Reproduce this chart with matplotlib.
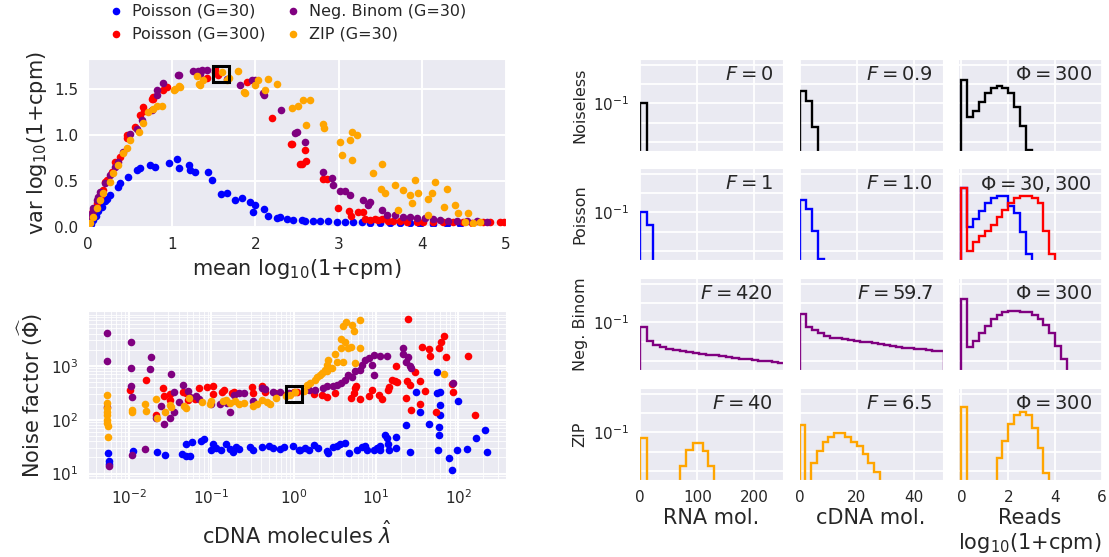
import matplotlib
matplotlib.use('Agg')
import matplotlib.pyplot as plt
import matplotlib.ticker as mtick
import numpy as np
import seaborn as sns

sns.set_style('darkgrid')
plt.rcParams['font.family'] = ['DejaVu Sans']
plt.rcParams['mathtext.fontset'] = 'dejavusans'
plt.rcParams['xtick.labelsize'] = 11
plt.rcParams['ytick.labelsize'] = 11


# ---------------- mean / variance scatter (top left) ----------------
blue_mean = [0.00, 0.01, 0.02, 0.03, 0.044, 0.06, 0.084, 0.10, 0.12, 0.144, 0.17, 0.203, 0.23, 0.263, 0.363,
             0.383, 0.482, 0.582, 0.622, 0.742, 0.801, 0.973, 1.061, 1.092, 1.212, 1.220, 1.280, 1.439, 1.487,
             1.587, 1.659, 1.758, 1.838, 1.938, 1.998, 1.978, 2.109, 2.149, 2.257, 2.297, 2.376, 2.456, 2.556,
             2.596, 2.695, 2.775, 2.875, 2.975, 3.074, 3.174, 3.274, 3.373, 3.493, 3.612, 3.732, 3.852, 3.971,
             4.131, 4.290, 4.450]
blue_var = [0.00, 0.005, 0.02, 0.035, 0.076, 0.08, 0.13, 0.12, 0.17, 0.22, 0.22, 0.28, 0.31, 0.348, 0.438,
            0.475, 0.547, 0.620, 0.638, 0.674, 0.656, 0.699, 0.736, 0.638, 0.674, 0.620, 0.601, 0.594, 0.511,
            0.359, 0.373, 0.293, 0.319, 0.268, 0.239, 0.167, 0.192, 0.120, 0.094, 0.105, 0.087, 0.076, 0.076,
            0.069, 0.069, 0.065, 0.065, 0.058, 0.054, 0.051, 0.051, 0.047, 0.047, 0.043, 0.040, 0.040, 0.036,
            0.036, 0.033, 0.033]

red_mean = [0.024, 0.064, 0.104, 0.151, 0.144, 0.183, 0.203, 0.223, 0.283, 0.323, 0.343, 0.383, 0.463, 0.463,
            0.562, 0.622, 0.662, 0.674, 0.762, 0.782, 0.781, 0.901, 0.941, 1.42, 1.519, 1.52, 1.55, 1.898, 0.05,
            2.205, 2.436, 2.428, 2.54, 2.596, 2.556, 2.608, 2.815, 2.855, 2.994, 3.126, 3.146, 3.234, 3.286,
            3.313, 3.373, 3.433, 3.473, 3.513, 3.593, 3.652, 3.732, 3.812, 3.931, 4.011, 4.131, 4.250, 4.370,
            4.490, 4.589, 4.729, 4.809, 4.928, 4.98]
red_var = [0.112, 0.185, 0.258, 0.348, 0.330, 0.402, 0.493, 0.511, 0.601, 0.710, 0.692, 0.764, 0.964, 1.0,
           1.090, 1.217, 1.308, 1.261, 1.395, 1.417, 1.399, 1.489, 1.525, 1.623, 1.725, 1.688, 1.652, 1.580, 0.15,
           1.192, 0.899, 0.90, 0.685, 0.837, 0.685, 0.717, 0.522, 0.518, 0.203, 0.174, 0.120, 0.159, 0.159,
           0.087, 0.076, 0.087, 0.076, 0.087, 0.065, 0.069, 0.065, 0.058, 0.058, 0.058, 0.051, 0.058, 0.051,
           0.051, 0.047, 0.051, 0.051, 0.058, 0.058]

purple_mean = [0.004, 0.024, 0.044, 0.064, 0.104, 0.124, 0.144, 0.203, 0.263, 0.323, 0.363, 0.423, 0.502, 0.582,
               0.642, 0.762, 0.821, 0.821, 0.901, 1.080, 1.092, 1.252, 1.316, 1.340, 1.360, 1.428, 1.659, 1.819,
               1.958, 2.0, 2.095, 2.107, 2.305, 2.476, 2.496, 2.596, 2.807, 2.915, 2.935, 3.014, 3.074, 3.134,
               3.293, 3.353, 3.373, 3.513, 3.573, 3.672, 3.772, 3.852, 3.931, 4.031, 4.131, 4.211, 4.310, 4.410,
               4.530, 4.649, 4.769]
purple_var = [0.058, 0.112, 0.149, 0.203, 0.293, 0.330, 0.384, 0.475, 0.565, 0.656, 0.710, 0.819, 1.018, 1.062,
              1.163, 1.272, 1.435, 1.489, 1.569, 1.652, 1.652, 1.699, 1.696, 1.663, 1.707, 1.707, 1.616, 1.551,
              1.598, 1.605, 1.464, 1.442, 1.272, 1.025, 1.036, 0.928, 0.601, 0.529, 0.457, 0.395, 0.395, 0.348,
              0.293, 0.239, 0.275, 0.185, 0.130, 0.130, 0.112, 0.112, 0.101, 0.094, 0.083, 0.076, 0.069, 0.069,
              0.065, 0.069, 0.058]

orange_mean = [0.004, 0.024, 0.064, 0.104, 0.144, 0.183, 0.263, 0.303, 0.363, 0.415, 0.463, 0.502, 0.614, 0.662,
               0.722, 0.782, 0.821, 0.881, 1.029, 1.04, 1.092, 1.10, 1.300, 1.332, 1.340, 1.37, 1.599, 1.659, 1.69,
               1.799, 1.87, 1.878, 1.998, 2.038, 2.117, 2.149, 2.257, 2.444, 2.508, 2.576, 2.656, 2.608, 2.815,
               2.823, 3.014, 3.034, 3.134, 3.154, 3.222, 3.154, 3.413, 3.513, 3.501, 3.553, 3.672, 3.712, 3.772,
               3.852, 3.872, 3.912, 3.952, 4.063, 4.071, 4.111, 4.151, 4.262, 4.290, 4.390, 4.430, 4.510, 4.550,
               4.609, 4.689]
orange_var = [0.0, 0.040, 0.112, 0.203, 0.293, 0.366, 0.493, 0.583, 0.674, 0.801, 0.855, 0.946, 1.036, 1.134,
              1.254, 1.290, 1.315, 1.319, 1.496, 1.507, 1.533, 1.525, 1.641, 1.562, 1.544, 1.60, 1.688, 1.598, 1.62,
              1.696, 1.47, 1.460, 1.551, 1.605, 1.496, 1.609, 1.562, 1.301, 1.315, 1.380, 1.380, 1.109, 1.127,
              1.076, 0.928, 0.783, 0.946, 1.036, 1.0, 0.728, 0.591, 0.685, 0.417, 0.366, 0.457, 0.185, 0.402,
              0.348, 0.264, 0.511, 0.366, 0.304, 0.130, 0.373, 0.486, 0.221, 0.417, 0.236, 0.149, 0.058, 0.149,
              0.040, 0.058]

box_top = (1.59, 1.67)

# ---------------- noise factor vs cDNA molecules (bottom left), log10 values ----------------
blue_lam = [-2.26, -2.25, -2.24, -1.95, -1.66, -1.56, -1.36, -1.31, -1.31, -1.26, -1.24, -1.13, -1.09, -1.00,
            -0.98, -0.94, -0.89, -0.82, -0.78, -0.74, -0.70, -0.66, -0.53, -0.49, -0.39, -0.30, -0.25, -0.17,
            -0.12, -0.01, 0.06, 0.08, 0.14, 0.18, 0.24, 0.30, 0.40, 0.42, 0.48, 0.52, 0.56, 0.62, 0.67, 0.77,
            0.83, 0.87, 0.89, 0.97, 1.01, 1.05, 1.05, 1.11, 1.13, 1.15, 1.16, 1.24, 1.24, 1.37, 1.41, 1.49, 1.54,
            1.64, 1.74, 1.74, 1.78, 1.76, 1.77, 1.78, 1.78, 1.75, 1.89, 1.92, 1.98, 2.00, 2.11, 2.22, 2.33, 2.35]
blue_phi = [1.38, 1.24, 1.17, 1.41, 1.40, 1.35, 1.37, 1.54, 1.32, 1.32, 1.59, 1.60, 1.65, 1.44, 1.54, 1.48, 1.44,
            1.54, 1.46, 1.40, 1.49, 1.46, 1.49, 1.43, 1.49, 1.52, 1.48, 1.46, 1.49, 1.51, 1.43, 1.44, 1.48, 1.44,
            1.53, 1.48, 1.41, 1.38, 1.49, 1.51, 1.54, 1.57, 1.38, 1.43, 1.49, 1.52, 1.43, 1.43, 1.48, 1.51, 1.43,
            1.72, 1.66, 1.54, 1.44, 1.68, 1.48, 1.90, 1.40, 2.51, 2.14, 1.92, 2.88, 2.49, 2.52, 1.72, 1.86, 2.27,
            2.09, 1.44, 1.29, 1.06, 1.44, 2.34, 1.46, 1.66, 1.80, 1.40]

red_lam = [-1.99, -1.79, -1.67, -1.58, -1.59, -1.51, -1.50, -1.34, -1.31, -1.28, -1.20, -1.15, -1.06, -0.98,
           -0.98, -0.87, -0.85, -0.75, -0.73, -0.51, -0.50, -0.39, -0.35, -0.23, -0.08, -0.00, 0.04, 0.25, 0.34,
           0.40, 0.50, 0.69, 0.73, 0.75, 0.76, 0.81, 0.92, 0.95, 1.04, 1.07, 1.15, 1.16, 1.19, 1.24, 1.23, 1.26,
           1.37, 1.38, 1.41, 1.43, 1.47, 1.54, 1.54, 1.56, 1.60, 1.64, 1.65, 1.73, 1.77, 1.79, 1.83, 1.85, 1.92,
           1.93, 2.12, 2.20, 1.39]
red_phi = [2.56, 2.74, 2.09, 2.45, 2.59, 2.37, 2.48, 2.51, 2.49, 2.37, 2.39, 2.59, 2.60, 2.63, 2.48, 2.52, 2.56,
           2.49, 2.51, 2.60, 2.49, 2.62, 2.51, 2.49, 2.48, 2.51, 2.51, 2.48, 2.46, 2.42, 2.49, 2.41, 2.49, 2.59,
           2.62, 2.39, 2.45, 2.56, 2.46, 2.39, 2.56, 2.61, 2.73, 2.99, 2.72, 2.71, 2.41, 2.72, 2.64, 2.19, 2.88,
           2.72, 2.29, 3.36, 2.53, 3.31, 3.19, 2.15, 3.33, 3.44, 3.56, 3.16, 2.66, 2.51, 3.19, 2.09, 3.88]

purple_lam = [-2.27, -2.27, -2.27, -2.24, -1.98, -1.98, -1.98, -1.97, -1.96, -1.81, -1.73, -1.75, -1.49, -1.68,
              -1.61, -1.58, -1.50, -1.45, -1.46, -1.39, -1.34, -1.29, -1.26, -1.19, -1.15, -1.00, -0.90, -0.81,
              -0.78, -0.73, -0.66, -0.61, -0.49, -0.39, -0.35, -0.25, -0.17, -0.06, 0.18, 0.26, 0.36, 0.40, 0.48,
              0.52, 0.58, 0.62, 0.66, 0.71, 0.75, 0.81, 0.83, 0.87, 0.91, 0.95, 0.97, 0.97, 1.05, 1.13, 1.33, 1.33,
              1.39, 1.41, 1.43, 1.37, 1.93]
purple_phi = [3.62, 3.09, 2.23, 1.14, 3.45, 2.97, 2.62, 2.43, 1.34, 1.46, 3.16, 2.94, 2.85, 2.04, 2.25, 1.92, 2.03,
              2.14, 2.51, 2.33, 2.64, 2.54, 2.43, 2.45, 2.38, 2.30, 2.29, 2.31, 2.14, 2.46, 2.49, 2.49, 2.34, 2.59,
              2.57, 2.52, 2.51, 2.49, 2.56, 2.56, 2.59, 2.62, 2.62, 2.65, 2.68, 2.74, 2.83, 2.80, 2.90, 2.93, 3.02,
              3.11, 3.14, 3.02, 2.83, 3.20, 3.19, 3.19, 3.34, 3.22, 3.17, 2.99, 2.96, 3.08, 2.69]

orange_lam = [-2.27, -2.27, -2.27, -2.27, -2.27, -2.27, -2.27, -2.26, -2.26, -1.97, -1.97, -1.81, -1.79, -1.67,
              -1.66, -1.56, -1.49, -1.50, -1.33, -1.31, -1.27, -1.12, -1.02, -1.01, -0.86, -0.82, -0.77, -0.72,
              -0.66, -0.61, -0.49, -0.45, -0.38, -0.32, -0.29, -0.21, -0.10, -0.04, 0.02, 0.12, 0.16, 0.20, 0.26,
              0.28, 0.32, 0.34, 0.38, 0.41, 0.42, 0.46, 0.40, 0.50, 0.52, 0.58, 0.60, 0.62, 0.66, 0.69, 0.58, 0.60,
              0.64, 0.71, 0.73, 0.75, 0.81, 0.81, 1.83]
orange_phi = [2.46, 2.31, 2.22, 2.15, 2.09, 2.00, 1.94, 1.88, 1.67, 2.19, 2.14, 2.29, 2.17, 2.39, 2.03, 2.14, 2.23,
              2.28, 2.25, 2.22, 2.41, 2.33, 2.29, 2.34, 2.34, 2.37, 2.31, 2.34, 2.29, 2.32, 2.25, 2.29, 2.37, 2.33,
              2.29, 2.40, 2.45, 2.46, 2.51, 2.53, 2.65, 2.68, 2.74, 2.80, 2.83, 2.86, 2.93, 3.02, 3.11, 2.96, 2.90,
              3.23, 3.08, 3.33, 3.08, 3.45, 3.33, 3.36, 3.51, 3.75, 3.81, 3.76, 3.65, 3.05, 3.85, 3.33, 2.85]

box_bot = (1.0, 300)

# ---------------- histograms (density, right grid) ----------------
rna_noiseless_edges = [0, 11.5]
rna_noiseless = [0.11]
rna_poisson_edges = [0, 11.5, 22]
rna_poisson = [0.1, 0.0226]
rna_nb_edges = np.arange(0, 254, 11.5)
rna_nb = [0.056, 0.0113, 0.0067, 0.0052, 0.0043, 0.0037, 0.0032, 0.0028, 0.0025, 0.0023, 0.0021,
          0.0019, 0.0017, 0.0015, 0.0014, 0.0013, 0.0012, 0.0011, 0.001, 0.00095, 0.0009, 0.0008]
rna_zip_edges = [0, 11.5, 69.5, 81, 92.5, 101, 110, 119.5, 130]
rna_zip = [0.050, 0, 0.0017, 0.0124, 0.0277, 0.0277, 0.0102, 0.0017]

cdna_noiseless_edges = [0, 2.1, 4.2, 6.3]
cdna_noiseless = [0.42, 0.13, 0.0056]
cdna_poisson_edges = [0, 2.1, 4.2, 6.3, 8.4]
cdna_poisson = [0.45, 0.149, 0.011, 0.00037]
cdna_nb_edges = np.arange(0, 50.5, 2.1)
cdna_nb = [0.267, 0.056, 0.041, 0.027, 0.0205, 0.016, 0.0145, 0.0133, 0.0122, 0.011, 0.0100, 0.0090,
           0.0082, 0.0073, 0.0064, 0.0058, 0.0053, 0.0049, 0.0045, 0.0042, 0.0040, 0.0037, 0.0034, 0.0031]
cdna_zip_edges = np.arange(0, 29, 2)
cdna_zip = [0.249, 0, 0.0024, 0.011, 0.032, 0.059, 0.089, 0.089, 0.059, 0.032, 0.0186, 0.0074, 0.0024, 0.00083]

reads_noiseless = [1.64, 0.020, 0.040, 0.113, 0.332, 0.604, 0.826, 0.604, 0.332, 0.0665, 0.0066, 0.00037]
reads_poisson30 = [1.78, 0.0166, 0.045, 0.113, 0.305, 0.556, 0.733, 0.733, 0.22, 0.089, 0.0098, 0.00067]
reads_poisson300 = [1.78, 0.001, 0.0029, 0.006, 0.011, 0.022, 0.055, 0.132, 0.305, 0.556, 0.733, 0.733,
                    0.556, 0.305, 0.011, 0.00067]
reads_nb = [1.62, 0.0051, 0.011, 0.027, 0.068, 0.146, 0.245, 0.325, 0.38, 0.40, 0.36, 0.325, 0.245, 0.146,
            0.074, 0.027, 0.006, 0.0012]
reads_zip = [2.0, 0, 0, 0, 0, 0, 0.0046, 0.036, 0.27, 0.83, 1.18, 0.83, 0.16, 0.015, 0.00073]
reads_bin = 0.25

row_names = ['Noiseless', 'Poisson', 'Neg. Binom', 'ZIP']
col_names = ['RNA mol.', 'cDNA mol.', 'Reads\nlog$_{10}$(1+cpm)']
annotations = [['$F=0$', '$F=0.9$', r'$\Phi=300$'],
               ['$F=1$', '$F=1.0$', r'$\Phi=30, 300$'],
               ['$F=420$', '$F=59.7$', r'$\Phi=300$'],
               ['$F=40$', '$F=6.5$', r'$\Phi=300$']]

BLUE, RED, PURPLE, ORANGE = 'blue', 'red', 'purple', 'orange'


def reads_edges(vals):
    return np.arange(len(vals) + 1) * reads_bin


hists = [
    [[(rna_noiseless_edges, rna_noiseless, 'k')],
     [(cdna_noiseless_edges, cdna_noiseless, 'k')],
     [(reads_edges(reads_noiseless), reads_noiseless, 'k')]],
    [[(rna_poisson_edges, rna_poisson, BLUE)],
     [(cdna_poisson_edges, cdna_poisson, BLUE)],
     [(reads_edges(reads_poisson30), reads_poisson30, BLUE),
      (reads_edges(reads_poisson300), reads_poisson300, RED)]],
    [[(rna_nb_edges, rna_nb, PURPLE)],
     [(cdna_nb_edges, cdna_nb, PURPLE)],
     [(reads_edges(reads_nb), reads_nb, PURPLE)]],
    [[(rna_zip_edges, rna_zip, ORANGE)],
     [(cdna_zip_edges, cdna_zip, ORANGE)],
     [(reads_edges(reads_zip), reads_zip, ORANGE)]],
]


fig = plt.figure(figsize=(11.09, 5.57), dpi=100)

# ---- top left ----
ax1 = fig.add_axes([0.0794, 0.5925, 0.3769, 0.3016])
handles = []
for x, y, c, lab in [(blue_mean, blue_var, BLUE, 'Poisson (G=30)'),
                     (red_mean, red_var, RED, 'Poisson (G=300)'),
                     (purple_mean, purple_var, PURPLE, 'Neg. Binom (G=30)'),
                     (orange_mean, orange_var, ORANGE, 'ZIP (G=30)')]:
    handles.append(ax1.scatter(x, y, s=30, color=c, linewidths=0, label=lab))
ax1.plot(*box_top, marker='s', ms=11, mfc='none', mec='k', mew=2.2)
ax1.set_xlim(0, 5)
ax1.set_ylim(0, 1.83)
ax1.set_yticks([0, 0.5, 1.0, 1.5])
ax1.yaxis.set_major_formatter(mtick.FormatStrFormatter('%.1f'))
ax1.grid(lw=1.4)
ax1.set_xlabel('mean log$_{10}$(1+cpm)', fontsize=15)
ax1.set_ylabel('var log$_{10}$(1+cpm)', fontsize=15)

fig.legend(handles=handles, ncol=2, loc='upper left', bbox_to_anchor=(0.092, 1.005),
           frameon=False, fontsize=11.5, handlelength=1, handletextpad=0.5,
           columnspacing=1.2, labelspacing=0.5, borderaxespad=0)

# ---- bottom left ----
ax2 = fig.add_axes([0.0794, 0.1400, 0.3769, 0.3016])
for lx, ly, c in [(blue_lam, blue_phi, BLUE), (red_lam, red_phi, RED),
                  (purple_lam, purple_phi, PURPLE), (orange_lam, orange_phi, ORANGE)]:
    ax2.scatter(10 ** np.array(lx), 10 ** np.array(ly), s=30, color=c, linewidths=0)
ax2.plot(*box_bot, marker='s', ms=11, mfc='none', mec='k', mew=2.2)
ax2.set_xscale('log')
ax2.set_yscale('log')
ax2.set_xlim(10 ** -2.5, 10 ** 2.58)
ax2.set_ylim(7.9, 10500)
ax2.set_yticks([10, 100, 1000])
ax2.grid(which='major', lw=1.4)
ax2.grid(which='minor', color='white', lw=0.6)
ax2.set_xlabel(r'cDNA molecules $\hat{\lambda}$', fontsize=15, labelpad=9)
ax2.set_ylabel(r'Noise factor ($\widehat{\Phi}$)', fontsize=15)

# ---- right grid of histograms ----
lefts = [0.5762, 0.7205, 0.8638]
bottoms = [0.7289, 0.5332, 0.3357, 0.1382]
xlims = [(-2, 250), (-0.2, 50), (-0.15, 6)]
xticks = [[0, 100, 200], [0, 20, 40], [0, 2, 4, 6]]

for r in range(4):
    for c in range(3):
        ax = fig.add_axes([lefts[c], bottoms[r], 0.1298, 0.1652])
        for edges, vals, color in hists[r][c]:
            ax.stairs(vals, edges, color=color, lw=1.7)
        ax.set_yscale('log')
        ax.set_ylim(3.3e-4, 20.3)
        ax.set_yticks([1e-3, 1e-2, 1e-1, 1, 10])
        ax.yaxis.set_minor_locator(mtick.NullLocator())
        if c == 0:
            ax.set_yticklabels(['', '', '$10^{-1}$', '', ''])
            ax.set_ylabel(row_names[r], fontsize=11.5)
        else:
            ax.set_yticklabels([])
        ax.set_xlim(*xlims[c])
        ax.set_xticks(xticks[c])
        if r == 3:
            ax.set_xlabel(col_names[c], fontsize=15, labelpad=2)
        else:
            ax.set_xticklabels([])
        ax.grid(lw=1.3)
        ax.text(0.93, 0.935, annotations[r][c], transform=ax.transAxes,
                ha='right', va='top', fontsize=14, color='.15')

fig.savefig('out.png', dpi=100)
